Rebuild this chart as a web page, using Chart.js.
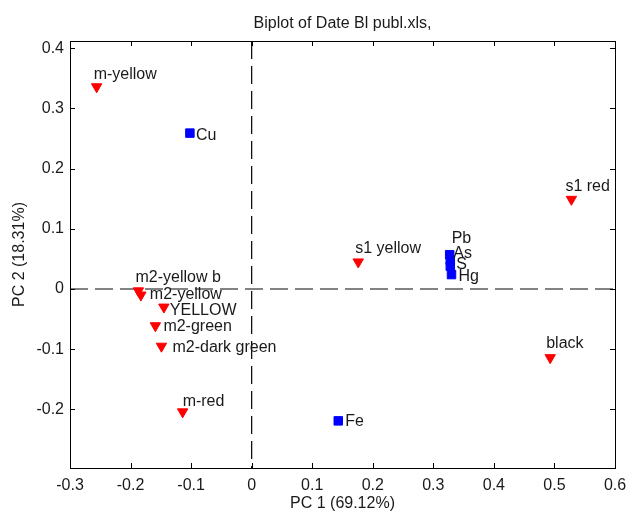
<!DOCTYPE html>
<html>
<head>
<meta charset="utf-8">
<script src="https://cdn.jsdelivr.net/npm/chart.js@4.4.1/dist/chart.umd.min.js"></script>
<style>
  html, body { margin: 0; padding: 0; background: #ffffff; }
  canvas { display: block; }
</style>
</head>
<body>
<canvas id="c" width="628" height="514"></canvas>
<script>
// ---- data ----
const chartTitle = 'Biplot of Date Bl publ.xls,';
const xTitle = 'PC 1 (69.12%)';
const yTitle = 'PC 2 (18.31%)';

const sampleNames = ['m-yellow', 'm2-yellow b', 'm2-yellow', 'YELLOW', 'm2-green', 'm2-dark green', 'm-red', 's1 yellow', 's1 red', 'black'];
const sampleX = [-0.256, -0.187, -0.183, -0.145, -0.159, -0.149, -0.114, 0.176, 0.528, 0.493];
const sampleY = [0.336, -0.003, -0.010, -0.030, -0.061, -0.095, -0.204, 0.045, 0.149, -0.114];

const varNames = ['Cu', 'Pb', 'As', 'S', 'Hg', 'Fe'];
const varX = [-0.102, 0.327, 0.328, 0.328, 0.330, 0.143];
const varY = [0.259, 0.057, 0.048, 0.038, 0.024, -0.219];

const xTicks = [-0.3, -0.2, -0.1, 0, 0.1, 0.2, 0.3, 0.4, 0.5, 0.6];
const yTicks = [-0.2, -0.1, 0, 0.1, 0.2, 0.3, 0.4];
const xLimits = [-0.3, 0.6];
const yLimits = [-0.2973, 0.412];

// label placement (pixel offsets from the marker, left edge / vertical middle of text)
const sampleLabelOffsets = [[-3, -14], [-3, -15], [9, -2], [6, 2], [8, -1], [11, 0], [0, -12], [-3, -15], [-6, -14], [-4, -16]];
const varLabelOffsets = [[6, 2], [2, -16], [3, -7], [6, -2], [7, 2.5], [7, 1]];

const FONT = '"Liberation Sans", Arial, Helvetica, sans-serif';
const FS = 16;
const TEXT = '#1a1a1a';

const samplePoints = sampleX.map((x, i) => ({ x: x, y: sampleY[i] }));
const varPoints = varX.map((x, i) => ({ x: x, y: varY[i] }));

const framePlugin = {
  id: 'matlabFrame',
  beforeDatasetsDraw(chart) {
    const { ctx, chartArea: a, scales: { x, y } } = chart;
    ctx.save();
    // zero reference lines
    ctx.lineWidth = 1.5;
    ctx.strokeStyle = '#5a5a5a';
    ctx.setLineDash([18, 7]);
    const y0 = y.getPixelForValue(0);
    ctx.beginPath();
    ctx.moveTo(a.left, y0);
    ctx.lineTo(a.right, y0);
    ctx.stroke();
    ctx.lineWidth = 1.2;
    ctx.strokeStyle = '#000';
    const x0 = x.getPixelForValue(0);
    ctx.beginPath();
    ctx.moveTo(x0, a.top);
    ctx.lineTo(x0, a.bottom);
    ctx.stroke();
    ctx.restore();
  },
  afterDatasetsDraw(chart) {
    const { ctx, chartArea: a, scales: { x, y } } = chart;
    ctx.save();
    // labels
    ctx.font = FS + 'px ' + FONT;
    ctx.fillStyle = TEXT;
    ctx.textAlign = 'left';
    ctx.textBaseline = 'middle';
    const m0 = chart.getDatasetMeta(0).data;
    m0.forEach((el, i) => {
      const o = sampleLabelOffsets[i];
      ctx.fillText(sampleNames[i], el.x + o[0], el.y + 1.5 + o[1]);
    });
    const m1 = chart.getDatasetMeta(1).data;
    m1.forEach((el, i) => {
      const o = varLabelOffsets[i];
      ctx.fillText(varNames[i], el.x + o[0], el.y + o[1]);
    });
    // frame
    ctx.strokeStyle = '#000';
    ctx.lineWidth = 1;
    ctx.strokeRect(Math.round(a.left) + 0.5, Math.round(a.top) + 0.5, Math.round(a.right - a.left), Math.round(a.bottom - a.top));
    // inward ticks
    const tl = 5;
    ctx.beginPath();
    x.ticks.forEach(t => {
      const px = Math.round(x.getPixelForValue(t.value)) + 0.5;
      ctx.moveTo(px, a.bottom); ctx.lineTo(px, a.bottom - tl);
      ctx.moveTo(px, a.top); ctx.lineTo(px, a.top + tl);
    });
    y.ticks.forEach(t => {
      const py = Math.round(y.getPixelForValue(t.value)) + 0.5;
      ctx.moveTo(a.left, py); ctx.lineTo(a.left + tl, py);
      ctx.moveTo(a.right, py); ctx.lineTo(a.right - tl, py);
    });
    ctx.stroke();
    ctx.restore();
  }
};

const fmt = v => (Math.abs(v) < 1e-9 ? '0' : String(Math.round(v * 10) / 10));

new Chart(document.getElementById('c'), {
  type: 'scatter',
  data: {
    datasets: [
      {
        label: 'samples',
        data: samplePoints,
        pointStyle: 'triangle',
        rotation: 180,
        pointRadius: 6,
        pointHoverRadius: 6,
        backgroundColor: '#ff0000',
        borderColor: '#ff0000',
        borderWidth: 1
      },
      {
        label: 'variables',
        data: varPoints,
        pointStyle: 'rect',
        pointRadius: 6,
        pointHoverRadius: 6,
        backgroundColor: '#0000ff',
        borderColor: '#0000ff',
        borderWidth: 1
      }
    ]
  },
  options: {
    responsive: false,
    animation: false,
    events: [],
    layout: { padding: { left: 0, right: 13, top: 0, bottom: 0 } },
    plugins: {
      legend: { display: false },
      tooltip: { enabled: false },
      title: {
        display: true,
        text: chartTitle,
        fullSize: false,
        color: TEXT,
        font: { family: FONT, size: FS, weight: 'normal' },
        padding: { top: 14, bottom: 7.8 }
      }
    },
    scales: {
      x: {
        type: 'linear',
        min: xLimits[0],
        max: xLimits[1],
        afterBuildTicks: s => { s.ticks = xTicks.map(v => ({ value: v })); },
        afterFit: s => { s.height = 46; s.paddingLeft = 0; s.paddingRight = 0; },
        grid: { display: false, drawTicks: false },
        border: { display: false },
        ticks: {
          color: TEXT,
          font: { family: FONT, size: FS },
          padding: 8,
          maxRotation: 0,
          autoSkip: false,
          callback: v => fmt(v)
        },
        title: {
          display: true,
          text: xTitle,
          color: TEXT,
          font: { family: FONT, size: FS },
          padding: { top: 0, bottom: 0.5 }
        }
      },
      y: {
        type: 'linear',
        min: yLimits[0],
        max: yLimits[1],
        afterBuildTicks: s => { s.ticks = yTicks.map(v => ({ value: v })); },
        afterFit: s => { s.width = 70; s.paddingTop = 0; s.paddingBottom = 0; },
        grid: { display: false, drawTicks: false },
        border: { display: false },
        ticks: {
          color: TEXT,
          font: { family: FONT, size: FS },
          padding: 6,
          autoSkip: false,
          callback: v => fmt(v)
        },
        title: {
          display: true,
          text: yTitle,
          color: TEXT,
          font: { family: FONT, size: FS },
          padding: { top: 10.4, bottom: 0 }
        }
      }
    }
  },
  plugins: [framePlugin]
});
</script>
</body>
</html>
